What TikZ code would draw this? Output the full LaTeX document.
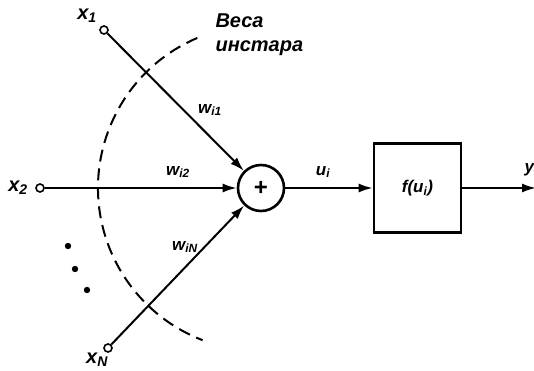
\documentclass[tikz,border=0pt]{standalone}
\usepackage{fontspec}
\setmainfont{Liberation Sans}
\usepackage{tikz}
\usetikzlibrary{arrows.meta,positioning,calc}

\begin{document}
\begin{tikzpicture}[x=1pt,y=1pt,
  every node/.style={font=\fontsize{17}{19}\selectfont\bfseries\itshape},
  big/.style={font=\fontsize{20}{22}\selectfont\bfseries\itshape},
  inp/.style={draw,circle,fill=white,line width=1.6pt,inner sep=0pt,minimum size=8pt},
  sm/.style={draw,circle,line width=2.6pt,minimum size=46pt,inner sep=0pt},
  blk/.style={draw,line width=2.6pt,minimum width=87pt,minimum height=89pt},
  ed/.style={line width=2pt,-{Latex[length=14pt,width=9pt]}}]
\useasboundingbox (0,0) rectangle (534,371);
% inputs and summer
\node[sm] (S) at (261,183) {\fontsize{24}{24}\selectfont\bfseries\upshape +};
\node[inp] (x1) at (104,341) {};
\node[inp] (x2) at (40,183) {};
\node[inp] (xN) at (108,23) {};
\node[blk] (F) at (417.5,183) {f(u\textsubscript{i})};
\coordinate (out) at (536,183);
% labels
\node[big] (lx1) at (87,355) {x\textsubscript{1}};
\node[big] (lx2) at (18,183) {x\textsubscript{2}};
\node[big] (lxN) at (97,11) {x\textsubscript{N}};
\node[big,anchor=base west] (ves1) at (212,343) {Веса};
\node[big,anchor=base west] (ves2) at (212,319) {инстара};
\node (w1) at (210,261) {w\textsubscript{i1}};
\node (w2) at (178,199) {w\textsubscript{i2}};
\node (wN) at (185,124) {w\textsubscript{iN}};
\node (u) at (323,199) {u\textsubscript{i}};
\node[anchor=west] (y) at (521,201) {y\textsubscript{i}};
% connections
\draw[ed] (x1) -- (S);
\draw[ed] (x2) -- (S);
\draw[ed] (xN) -- (S);
\draw[ed] (S) -- (F);
\draw[ed] (F) -- (out);
% dashed arc of the instar weights
\draw[line width=2pt,dash pattern=on 12pt off 7pt]
  ($(S)+(113:163)$) arc[start angle=113,end angle=249,radius=163];
% dots
\foreach \p in {(68,125),(75,102),(87,81)} {\fill \p circle (3.2pt);}
\end{tikzpicture}
\end{document}
